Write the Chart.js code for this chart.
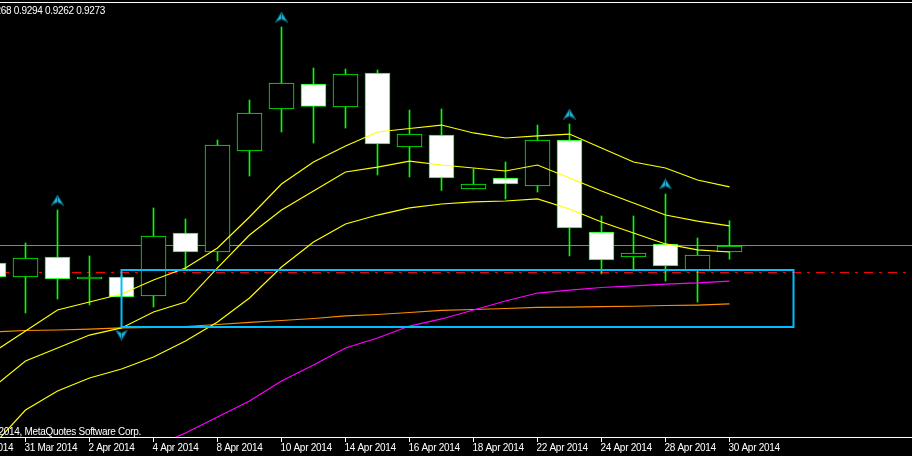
<!DOCTYPE html>
<html><head><meta charset="utf-8">
<script src="https://cdn.jsdelivr.net/npm/chart.js@4/dist/chart.umd.min.js"></script>
<style>html,body{margin:0;padding:0;background:#000;overflow:hidden}canvas{display:block}</style>
</head><body>
<canvas id="c" width="912" height="456"></canvas>
<script>
// ---- data (AUDUSD, Daily) ----
const dates = ['27 Mar 2014','28 Mar 2014','31 Mar 2014','1 Apr 2014','2 Apr 2014','3 Apr 2014','4 Apr 2014','7 Apr 2014','8 Apr 2014','9 Apr 2014','10 Apr 2014','11 Apr 2014','14 Apr 2014','15 Apr 2014','16 Apr 2014','17 Apr 2014','18 Apr 2014','21 Apr 2014','22 Apr 2014','23 Apr 2014','24 Apr 2014','25 Apr 2014','28 Apr 2014','29 Apr 2014','30 Apr 2014'];
const openP  = [null,0.92588,0.92472,0.92638,0.92455,0.92472,0.92313,0.92838,0.92680,0.93522,0.93872,0.94080,0.93888,0.94172,0.93555,0.93655,0.93205,0.93297,0.93230,0.93613,0.92847,0.92638,0.92747,0.92530,0.92680];
const highP  = [null,0.92630,0.92755,0.93030,0.92647,0.92480,0.93047,0.92955,0.93613,0.93947,0.94555,0.94213,0.94205,0.94197,0.93863,0.93872,0.93372,0.93430,0.93738,0.93747,0.92980,0.92980,0.93163,0.92797,0.92940];
const lowP   = [null,0.92405,0.92172,0.92288,0.92238,0.92300,0.92222,0.92538,0.92605,0.93313,0.93680,0.93588,0.93713,0.93322,0.93305,0.93193,0.93205,0.93122,0.93180,0.92647,0.92497,0.92530,0.92438,0.92263,0.92620];
const closeP = [null,0.92472,0.92630,0.92455,0.92455,0.92305,0.92813,0.92680,0.93572,0.93838,0.94088,0.93893,0.94163,0.93580,0.93663,0.93297,0.93247,0.93247,0.93613,0.92880,0.92613,0.92672,0.92563,0.92655,0.92730];
const upperLine  = [null,0.91847,0.92022,0.92197,0.92263,0.92330,0.92447,0.92547,0.92713,0.92972,0.93247,0.93430,0.93563,0.93680,0.93709,0.93738,0.93672,0.93630,0.93647,0.93663,0.93547,0.93430,0.93380,0.93280,0.93222];
const middleLine = [null,0.91555,0.91772,0.91880,0.91988,0.92047,0.92180,0.92263,0.92547,0.92822,0.93030,0.93188,0.93347,0.93388,0.93438,0.93405,0.93380,0.93355,0.93405,0.93297,0.93188,0.93088,0.92988,0.92938,0.92897];
const lowerLine  = [null,0.91072,0.91363,0.91522,0.91630,0.91705,0.91805,0.91938,0.92097,0.92297,0.92555,0.92763,0.92913,0.92988,0.93047,0.93080,0.93097,0.93105,0.93122,0.93038,0.92930,0.92838,0.92747,0.92697,0.92680];
const magentaLine = [null,null,null,null,null,null,0.91055,0.91172,0.91305,0.91438,0.91605,0.91738,0.91880,0.91963,0.92063,0.92122,0.92197,0.92272,0.92338,0.92363,0.92384,0.92397,0.92413,0.92422,0.92438];
const orangeLine = [0.92005,0.92013,0.92026,0.92030,0.92038,0.92047,0.92051,0.92059,0.92076,0.92093,0.92109,0.92126,0.92147,0.92159,0.92176,0.92193,0.92201,0.92209,0.92218,0.92220,0.92224,0.92228,0.92234,0.92238,0.92247];
const arrowUpBars = [3,10,19,22];
const arrowUpPrices = [0.93113,0.94638,0.93830,0.93247];
const arrowDownBars = [5];
const arrowDownPrices = [0.91988];
const bidPrice = 0.9273;
const hLinePrice = 0.9251;
const rectBars = [5,26];
const rectPrices = [0.92527,0.92055];
const headerText = 'AUDUSD,Daily  0.9268 0.9294 0.9262 0.9273';
const copyrightText = 'Copyright \u00A9 2001-2014, MetaQuotes Software Corp.';

// ---- layout ----
const W=912, H=456, PX_PER_BAR=32, FIRST_BAR_PX=-38.5, AXIS_H=18;
const yMax=0.9478, yMin=0.9478-(H-AXIS_H)/12000;
const xMin=-FIRST_BAR_PX/PX_PER_BAR, xMax=(W-FIRST_BAR_PX)/PX_PER_BAR;

function pickFont(){
  const c=document.createElement('canvas').getContext('2d');
  c.font='11px monospace'; const a=c.measureText('31 Mar 2014').width;
  c.font='11px "Liberation Sans Narrow", monospace'; const b=c.measureText('31 Mar 2014').width;
  return Math.abs(a-b)>0.5 ? {font:'11px "Liberation Sans Narrow"',ls:'0px'} : {font:'10px "Liberation Sans"',ls:'-0.3px'};
}
const FONT=pickFont();

function arrowImg(up){
  const c=document.createElement('canvas'); c.width=13; c.height=11;
  const g=c.getContext('2d');
  if(!up){ g.translate(0,11); g.scale(1,-1); }
  g.beginPath(); g.moveTo(6.5,0.5); g.lineTo(12.5,10.5); g.lineTo(6.5,7.5); g.lineTo(0.5,10.5); g.closePath();
  g.fillStyle='#1DB4D8'; g.fill(); g.strokeStyle='#0A5A6E'; g.lineWidth=1; g.stroke();
  g.beginPath(); g.moveTo(6.5,2); g.lineTo(6.5,7.5); g.strokeStyle='#0A5A6E'; g.stroke();
  return c;
}

const idx=[]; for(let i=0;i<dates.length;i++) idx.push(i);
const candleIdx = idx.filter(i=>openP[i]!=null);
const wickData = candleIdx.map(i=>({x:i,y:[lowP[i],highP[i]]}));
const bodyData = candleIdx.map(i=>({x:i,y:[Math.min(openP[i],closeP[i]),Math.max(openP[i],closeP[i])]}));
const bodyFill = candleIdx.map(i=>closeP[i]>=openP[i]?'#000000':'#FFFFFF');
const lineData = arr => idx.filter(i=>arr[i]!=null).map(i=>({x:i,y:arr[i]}));

const mtPlugin = {
  id:'mt',
  beforeDraw(chart){ const c=chart.ctx; c.save(); c.fillStyle='#000'; c.fillRect(0,0,W,H); c.restore(); },
  beforeDatasetsDraw(chart){
    const c=chart.ctx, ys=chart.scales.y, a=chart.chartArea;
    c.save(); c.lineWidth=1;
    let y=Math.floor(ys.getPixelForValue(bidPrice))+0.5;
    c.strokeStyle='#778899'; c.beginPath(); c.moveTo(a.left,y); c.lineTo(a.right,y); c.stroke();
    y=Math.floor(ys.getPixelForValue(hLinePrice))+0.5;
    c.strokeStyle='#FF0000'; c.setLineDash([9,6,3,6]); c.beginPath(); c.moveTo(a.left,y); c.lineTo(a.right,y); c.stroke();
    c.restore();
  },
  afterDatasetsDraw(chart){
    const c=chart.ctx, xs=chart.scales.x, ys=chart.scales.y;
    const x1=xs.getPixelForValue(rectBars[0]), x2=xs.getPixelForValue(rectBars[1]);
    const y1=Math.round(ys.getPixelForValue(rectPrices[0])), y2=Math.round(ys.getPixelForValue(rectPrices[1]));
    c.save(); c.strokeStyle='#00BFFF'; c.lineWidth=2; c.strokeRect(x1,y1,x2-x1,y2-y1); c.restore();
  },
  afterDraw(chart){
    const c=chart.ctx, xs=chart.scales.x, a=chart.chartArea;
    c.save();
    c.fillStyle='#FFFFFF';
    c.fillRect(0,2,W,1);
    c.fillRect(0,Math.round(a.bottom)-1,W,1);
    c.font=FONT.font; c.letterSpacing=FONT.ls; c.textBaseline='alphabetic'; c.textAlign='left';
    for(let i=0;i<dates.length;i+=2){
      const x=xs.getPixelForValue(i);
      c.fillRect(Math.floor(x),Math.round(a.bottom),1,4);
      c.fillText(dates[i],x-1,451);
    }
    c.textAlign='right';
    c.fillText(headerText,105,14);
    c.fillText(copyrightText,141,434.5);
    c.restore();
  }
};

new Chart(document.getElementById('c'),{
  type:'bar',
  data:{datasets:[
    {type:'bar',data:wickData,backgroundColor:'#00FF00',borderWidth:0,grouped:false,barPercentage:1,categoryPercentage:1,maxBarThickness:1,order:10},
    {type:'bar',data:bodyData,backgroundColor:bodyFill,borderColor:'#00FF00',borderWidth:1,borderSkipped:false,grouped:false,barPercentage:1,categoryPercentage:1,maxBarThickness:25,minBarLength:2,order:9},
    {type:'line',data:lineData(orangeLine),borderColor:'#FF8C00',borderWidth:1.2,pointRadius:0,tension:0,order:5},
    {type:'line',data:lineData(magentaLine),borderColor:'#FF00FF',borderWidth:1.2,pointRadius:0,tension:0,order:4},
    {type:'line',data:lineData(lowerLine),borderColor:'#FFFF00',borderWidth:1.2,pointRadius:0,tension:0,order:3},
    {type:'line',data:lineData(middleLine),borderColor:'#FFFF00',borderWidth:1.2,pointRadius:0,tension:0,order:2},
    {type:'line',data:lineData(upperLine),borderColor:'#FFFF00',borderWidth:1.2,pointRadius:0,tension:0,order:1},
    {type:'scatter',data:arrowUpBars.map((b,k)=>({x:b,y:arrowUpPrices[k]})),pointStyle:arrowImg(true),order:0},
    {type:'scatter',data:arrowDownBars.map((b,k)=>({x:b,y:arrowDownPrices[k]})),pointStyle:arrowImg(false),order:0}
  ]},
  options:{
    responsive:false, devicePixelRatio:1, animation:false,
    layout:{autoPadding:false,padding:{left:0,right:0,top:0,bottom:AXIS_H}},
    plugins:{legend:{display:false},tooltip:{enabled:false}},
    scales:{
      x:{type:'linear',min:xMin,max:xMax,display:false,offset:false,grid:{offset:false}},
      y:{type:'linear',min:yMin,max:yMax,display:false,beginAtZero:false}
    }
  },
  plugins:[mtPlugin]
});
</script>
</body></html>
